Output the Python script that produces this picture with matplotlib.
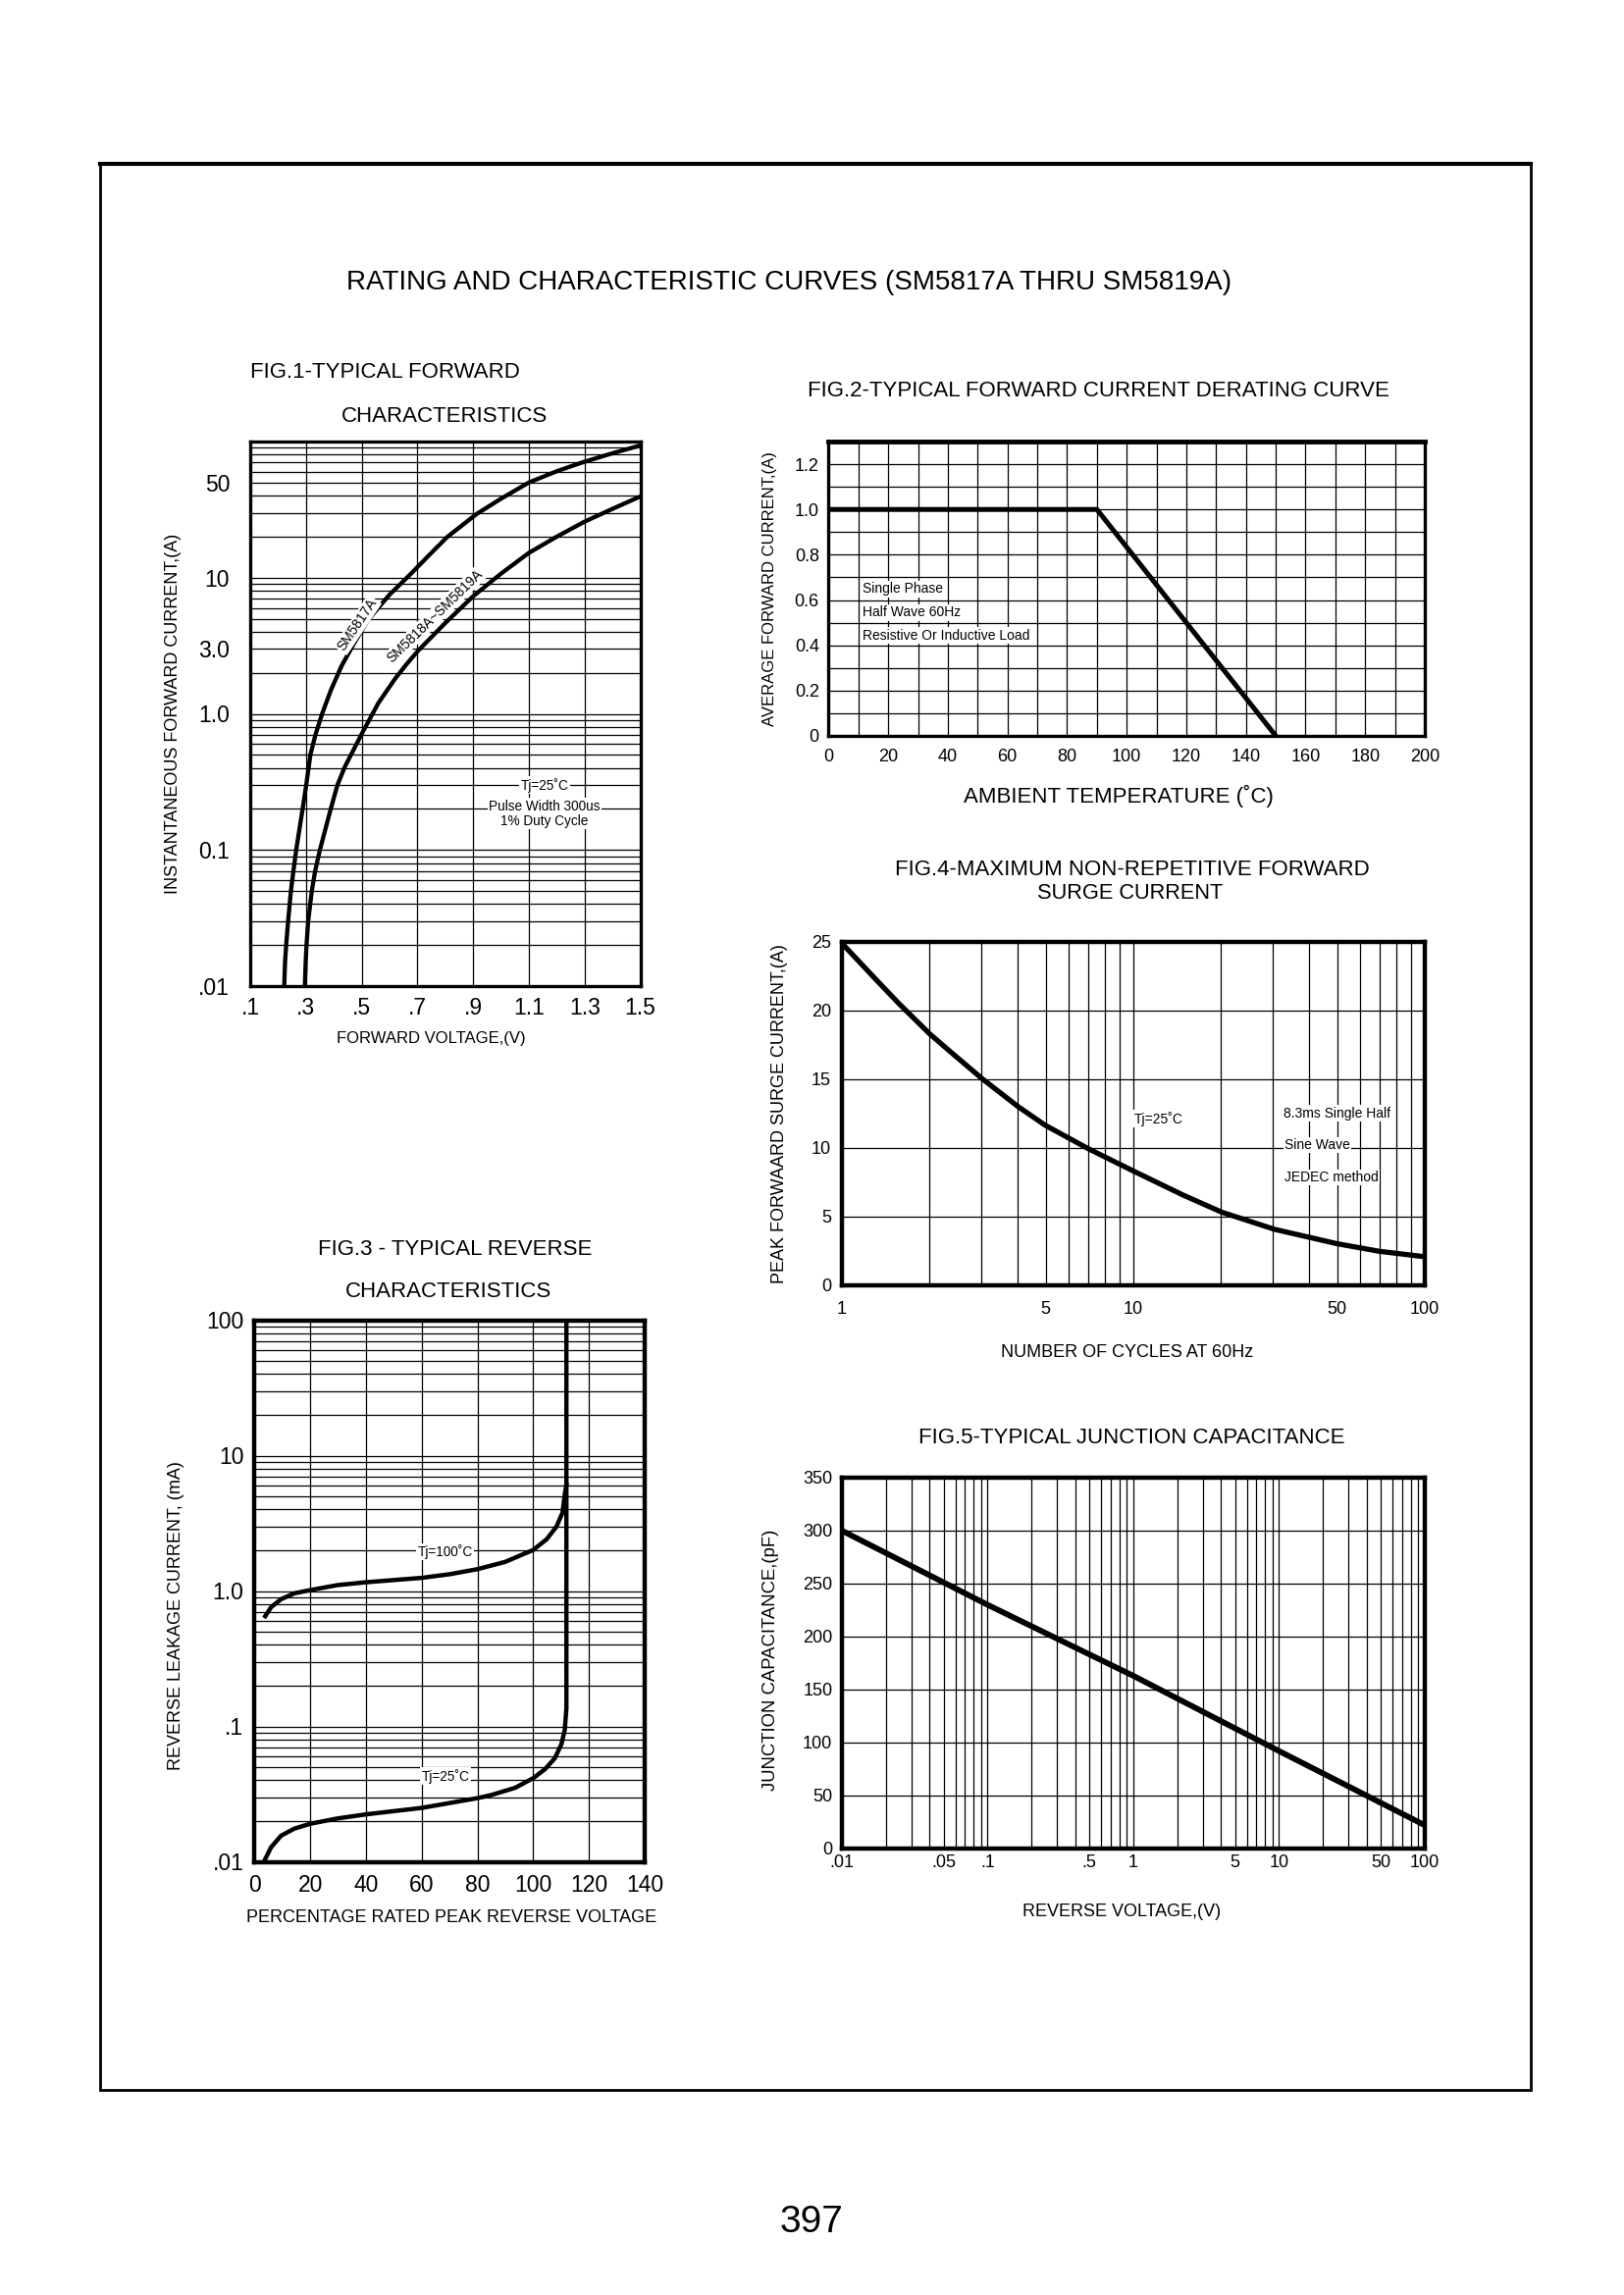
import matplotlib
matplotlib.use('Agg')
import matplotlib.pyplot as plt
from matplotlib.patches import Rectangle
from matplotlib.ticker import LogLocator, NullFormatter

# fig.1 forward characteristics (V, A)
fwd_v_5817 = [0.222, 0.225, 0.229, 0.236, 0.246, 0.255, 0.265, 0.288, 0.301, 0.316, 0.334, 0.358,
              0.39, 0.428, 0.473, 0.523, 0.6, 0.677, 0.74, 0.807, 0.913, 1.0, 1.1, 1.2, 1.29, 1.4,
              1.5]
fwd_i_5817 = [0.01, 0.015, 0.02, 0.03, 0.05, 0.07, 0.1, 0.2, 0.3, 0.5, 0.7, 1.0,
              1.5, 2.25, 3.3, 4.9, 7.5, 10.7, 14.5, 19.9, 29.4, 38.0, 50.0, 60.5, 70.0, 82.0,
              93.5]
fwd_v_5819 = [0.296, 0.299, 0.302, 0.308, 0.321, 0.333, 0.350, 0.389, 0.413, 0.44, 0.466, 0.506,
              0.56, 0.619, 0.66, 0.702, 0.798, 0.9, 1.0, 1.1, 1.2, 1.3, 1.4, 1.5]
fwd_i_5819 = [0.01, 0.015, 0.02, 0.03, 0.05, 0.07, 0.1, 0.2, 0.3, 0.41, 0.52, 0.75,
              1.2, 1.8, 2.3, 2.9, 4.6, 7.3, 10.7, 15.2, 20.0, 25.8, 32.0, 39.5]

# fig.2 derating curve (deg C, A)
derate_t = [0, 90, 150]
derate_i = [1.0, 1.0, 0.0]

# fig.3 reverse characteristics (% rated voltage, mA)
rev_pct_100 = [3.8, 5.9, 9.5, 14.3, 20, 29.7, 39.9, 59.9, 70, 80, 89.9, 100, 104.8, 108.3, 110.5,
               111.3, 111.9]
rev_ma_100 = [0.652, 0.759, 0.87, 0.962, 1.016, 1.105, 1.16, 1.25, 1.33, 1.45, 1.64, 2.01, 2.41, 2.98,
              3.79, 5.13, 6.1]
rev_pct_25 = [3.3, 5.9, 9.5, 14.3, 20, 29.7, 39.9, 59.9, 79.9, 85.1, 93.5, 100, 104.2, 107.7, 110.1,
              111.3, 111.9, 111.9]
rev_ma_25 = [0.01, 0.0128, 0.0156, 0.0176, 0.0191, 0.0209, 0.0224, 0.025, 0.0295, 0.0312, 0.0352,
             0.0415, 0.0483, 0.058, 0.0738, 0.094, 0.135, 100]

# fig.4 surge current (cycles, A)
cycles = [1, 1.31, 1.57, 2.0, 2.4, 3.04, 4.02, 4.98, 6.97, 10, 14.8, 20.1, 30.5, 50, 69.7, 100]
surge_a = [24.9, 22.25, 20.5, 18.3, 16.85, 15.0, 13.0, 11.64, 9.95, 8.3, 6.55, 5.3, 4.05, 3.0,
           2.45, 2.05]

# fig.5 junction capacitance (V, pF)
cap_v = [0.01, 0.1, 1, 10, 100]
cap_pf = [300, 230, 163, 92, 22]

fig1_xticks = [0.1, 0.3, 0.5, 0.7, 0.9, 1.1, 1.3, 1.5]
fig1_xlabels = ['.1', '.3', '.5', '.7', '.9', '1.1', '1.3', '1.5']
fig1_yticks = [0.01, 0.1, 1, 3, 10, 50]
fig1_ylabels = ['.01', '0.1', '1.0', '3.0', '10', '50']
fig3_yticks = [0.01, 0.1, 1, 10, 100]
fig3_ylabels = ['.01', '.1', '1.0', '10', '100']
fig4_xticks = [1, 5, 10, 50, 100]
fig5_xticks = [0.01, 0.05, 0.1, 0.5, 1, 5, 10, 50, 100]
fig5_xlabels = ['.01', '.05', '.1', '.5', '1', '5', '10', '50', '100']

plt.rcParams['font.family'] = ['Liberation Sans', 'DejaVu Sans']

W, H = 1656, 2339
S = 1.5
fig = plt.figure(figsize=(W / 100, H / 100), dpi=100)


def box(x0, y0, x1, y1):
    return [x0 * S / W, 1 - y1 * S / H, (x1 - x0) * S / W, (y1 - y0) * S / H]


def ftxt(x, y, s, **kw):
    kw.setdefault('ha', 'center')
    kw.setdefault('va', 'center')
    fig.text(x * S / W, 1 - y * S / H, s, **kw)


def style(ax, spine_w=2.4):
    for sp in ax.spines.values():
        sp.set_linewidth(spine_w)
        sp.set_zorder(5)
    ax.tick_params(which='both', length=0, colors='black')
    ax.grid(True, which='both', color='black', linewidth=0.9)
    ax.set_axisbelow(True)


white = dict(facecolor='white', edgecolor='none', pad=1.0)

# outer page frame
fig.patches.append(Rectangle((68 * S / W, 1 - 1420 * S / H), 972 * S / W, 1309 * S / H,
                             transform=fig.transFigure, fill=False, linewidth=2.0, edgecolor='black'))
fig.lines.append(plt.Line2D([68 * S / W, 1040 * S / W], [1 - 111 * S / H] * 2,
                            transform=fig.transFigure, color='black', linewidth=3.0))
ftxt(536, 192, 'RATING AND CHARACTERISTIC CURVES (SM5817A THRU SM5819A)', fontsize=20)
ftxt(551, 1510, '397', fontsize=28)

# ---------------- FIG.1
ax1 = fig.add_axes(box(170, 300, 435, 670))
ax1.set_yscale('log')
ax1.set_xlim(0.1, 1.5)
ax1.set_ylim(0.01, 100)
ax1.set_xticks(fig1_xticks, fig1_xlabels)
ax1.set_yticks(fig1_yticks, fig1_ylabels)
ax1.yaxis.set_minor_locator(LogLocator(subs=range(2, 10)))
ax1.yaxis.set_minor_formatter(NullFormatter())
style(ax1)
ax1.tick_params(labelsize=16.5)
ax1.tick_params(axis='y', pad=15)
ax1.tick_params(axis='x', pad=8)
ax1.plot(fwd_v_5817, fwd_i_5817, color='black', lw=3.1)
ax1.plot(fwd_v_5819, fwd_i_5819, color='black', lw=3.1)
ax1.text(0.485, 4.5, 'SM5817A', rotation=56, fontsize=10, ha='center', va='center', bbox=white)
ax1.text(0.762, 5.2, 'SM5818A~SM5819A', rotation=44, fontsize=10, ha='center', va='center', bbox=white)
ax1.text(1.156, 0.30, 'Tj=25\u02daC', fontsize=9.8, ha='center', va='center', bbox=white)
ax1.text(1.156, 0.21, 'Pulse Width 300us', fontsize=9.8, ha='center', va='center', bbox=white)
ax1.text(1.156, 0.163, '1% Duty Cycle', fontsize=9.8, ha='center', va='center', bbox=white)
ftxt(170, 253, 'FIG.1-TYPICAL FORWARD', fontsize=16, ha='left')
ftxt(302, 283, 'CHARACTERISTICS', fontsize=16)
ftxt(293, 706, 'FORWARD VOLTAGE,(V)', fontsize=12)
ftxt(118, 485, 'INSTANTANEOUS FORWARD CURRENT,(A)', fontsize=13, rotation=90)

# ---------------- FIG.2
ax2 = fig.add_axes(box(563, 300, 968, 500))
ax2.set_xlim(0, 200)
ax2.set_ylim(0, 1.3)
ax2.set_xticks(range(0, 201, 20))
ax2.set_xticks(range(10, 200, 20), minor=True)
ax2.set_yticks([0, 0.2, 0.4, 0.6, 0.8, 1.0, 1.2], ['0', '0.2', '0.4', '0.6', '0.8', '1.0', '1.2'])
ax2.set_yticks([0.1, 0.3, 0.5, 0.7, 0.9, 1.1], minor=True)
style(ax2)
ax2.spines['top'].set_linewidth(3.5)
ax2.tick_params(labelsize=13)
ax2.tick_params(axis='x', pad=9)
ax2.tick_params(axis='y', pad=7)
ax2.plot(derate_t, derate_i, color='black', lw=3.6)
ax2.text(11.5, 0.649, 'Single Phase', fontsize=10, ha='left', va='center', bbox=white)
ax2.text(11.5, 0.544, 'Half Wave 60Hz', fontsize=10, ha='left', va='center', bbox=white)
ax2.text(11.5, 0.443, 'Resistive Or Inductive Load', fontsize=10, ha='left', va='center', bbox=white)
ftxt(746, 266, 'FIG.2-TYPICAL FORWARD CURRENT DERATING CURVE', fontsize=16)
ftxt(760, 541, 'AMBIENT TEMPERATURE (\u02daC)', fontsize=16)
ftxt(523, 400, 'AVERAGE FORWARD CURRENT,(A)', fontsize=12, rotation=90)

# ---------------- FIG.3
ax3 = fig.add_axes(box(173, 897, 438, 1265))
ax3.set_yscale('log')
ax3.set_xlim(0, 140)
ax3.set_ylim(0.01, 100)
ax3.set_xticks(range(0, 141, 20))
ax3.set_yticks(fig3_yticks, fig3_ylabels)
ax3.yaxis.set_minor_locator(LogLocator(subs=range(2, 10)))
ax3.yaxis.set_minor_formatter(NullFormatter())
style(ax3, 3.2)
ax3.tick_params(labelsize=16.5)
ax3.tick_params(axis='y', pad=8)
ax3.tick_params(axis='x', pad=9)
ax3.plot(rev_pct_100, rev_ma_100, color='black', lw=3.2)
ax3.plot(rev_pct_25, rev_ma_25, color='black', lw=3.2)
ax3.text(68.4, 1.95, 'Tj=100\u02daC', fontsize=9.8, ha='center', va='center', bbox=white)
ax3.text(68.4, 0.043, 'Tj=25\u02daC', fontsize=9.8, ha='center', va='center', bbox=white)
ftxt(309, 849, 'FIG.3 - TYPICAL REVERSE', fontsize=16)
ftxt(305, 878, 'CHARACTERISTICS', fontsize=16)
ftxt(307, 1303, 'PERCENTAGE RATED PEAK REVERSE VOLTAGE', fontsize=13)
ftxt(120, 1098, 'REVERSE LEAKAGE CURRENT, (mA)', fontsize=13, rotation=90)

# ---------------- FIG.4
ax4 = fig.add_axes(box(572, 640, 968, 873))
ax4.set_xscale('log')
ax4.set_xlim(1, 100)
ax4.set_ylim(0, 25)
ax4.set_xticks(fig4_xticks, [str(v) for v in fig4_xticks])
ax4.xaxis.set_minor_locator(LogLocator(subs=range(2, 10)))
ax4.xaxis.set_minor_formatter(NullFormatter())
ax4.set_yticks(range(0, 26, 5))
style(ax4, 3.2)
ax4.tick_params(labelsize=13)
ax4.tick_params(axis='x', pad=12)
ax4.tick_params(axis='y', pad=8)
ax4.plot(cycles, surge_a, color='black', lw=3.8)
ax4.text(12.2, 12.1, 'Tj=25\u02daC', fontsize=10, ha='center', va='center', bbox=white)
ax4.text(32.7, 12.5, '8.3ms Single Half', fontsize=10, ha='left', va='center', bbox=white)
ax4.text(33, 10.2, 'Sine Wave', fontsize=10, ha='left', va='center', bbox=white)
ax4.text(33, 7.83, 'JEDEC method', fontsize=10, ha='left', va='center', bbox=white)
ftxt(769, 591, 'FIG.4-MAXIMUM NON-REPETITIVE FORWARD', fontsize=16)
ftxt(768, 607, 'SURGE CURRENT', fontsize=15.7)
ftxt(766, 919, 'NUMBER OF CYCLES AT 60Hz', fontsize=13)
ftxt(530, 757, 'PEAK FORWAARD SURGE CURRENT,(A)', fontsize=13, rotation=90)

# ---------------- FIG.5
ax5 = fig.add_axes(box(572, 1004, 968, 1256))
ax5.set_xscale('log')
ax5.set_xlim(0.01, 100)
ax5.set_ylim(0, 350)
ax5.set_xticks(fig5_xticks, fig5_xlabels)
ax5.xaxis.set_minor_locator(LogLocator(subs=range(2, 10)))
ax5.xaxis.set_minor_formatter(NullFormatter())
ax5.set_yticks(range(0, 351, 50))
style(ax5, 3.2)
ax5.tick_params(labelsize=13)
ax5.tick_params(axis='x', pad=4)
ax5.tick_params(axis='y', pad=7)
ax5.plot(cap_v, cap_pf, color='black', lw=4.2)
ftxt(769, 977, 'FIG.5-TYPICAL JUNCTION CAPACITANCE', fontsize=16)
ftxt(762, 1299, 'REVERSE VOLTAGE,(V)', fontsize=13)
ftxt(524, 1128, 'JUNCTION CAPACITANCE,(pF)', fontsize=13.3, rotation=90)

fig.savefig('out.png', dpi=100, facecolor='white')
